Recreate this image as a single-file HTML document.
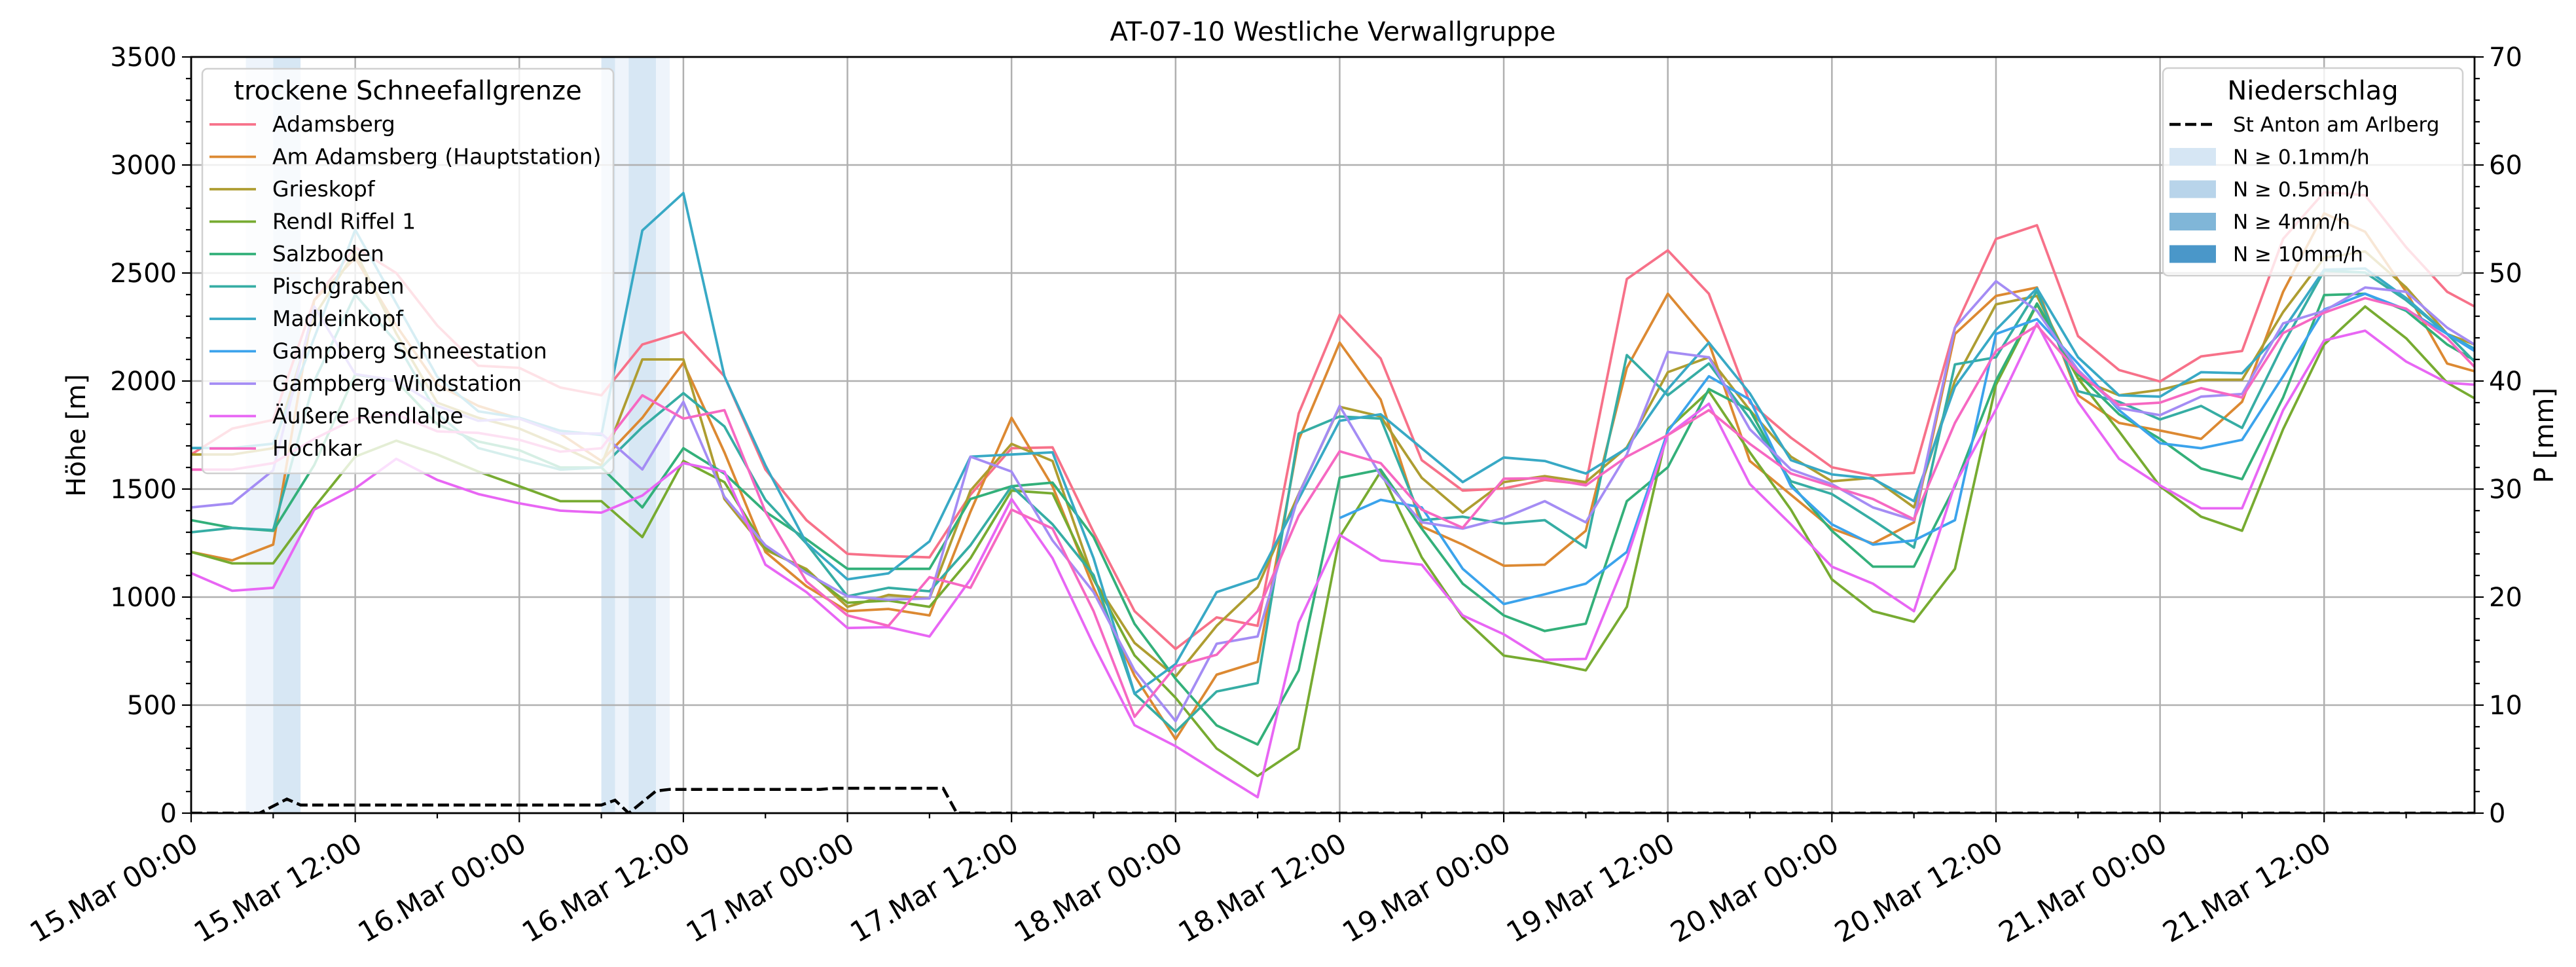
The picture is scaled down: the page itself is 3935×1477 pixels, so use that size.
<!DOCTYPE html>
<html>
<head>
<meta charset="utf-8">
<style>
html,body{margin:0;padding:0;background:#fff;}
svg{display:block;font-family:"DejaVu Sans","Liberation Sans",sans-serif;}
</style>
</head>
<body>
<svg id="chart" width="3935" height="1477" viewBox="0 0 3935 1477" xmlns="http://www.w3.org/2000/svg">
  <rect x="0" y="0" width="3935" height="1477" fill="#ffffff"/>
  <defs><clipPath id="plotclip"><rect x="292" y="87" width="3488" height="1155"/></clipPath></defs>
  <g id="bands" clip-path="url(#plotclip)"></g>
  <g id="grid"></g>
  <g id="lines" clip-path="url(#plotclip)"></g>
  <g id="precip" clip-path="url(#plotclip)"></g>
  <g id="axes"></g>
  <text x="2036" y="62" font-size="40" text-anchor="middle">AT-07-10 Westliche Verwallgruppe</text>
  <text transform="translate(130,665) rotate(-90)" font-size="40" text-anchor="middle">Höhe [m]</text>
  <text transform="translate(3900,665) rotate(-90)" font-size="40" text-anchor="middle">P [mm]</text>
  <g id="legend1"></g>
  <g id="legend2"></g>
</svg>
<script>
const hours = [0,3,6,9,12,15,18,21,24,27,30,33,36,39,42,45,48,51,54,57,60,63,66,69,72,75,78,81,84,87,90,93,96,99,102,105,108,111,114,117,120,123,126,129,132,135,138,141,144,147,150,153,156,159,162,165,167];
const seriesNames = ["Adamsberg","Am Adamsberg (Hauptstation)","Grieskopf","Rendl Riffel 1","Salzboden","Pischgraben","Madleinkopf","Gampberg Schneestation","Gampberg Windstation","Äußere Rendlalpe","Hochkar"];
const seriesColors = ["#f77189","#dc8932","#ae9d31","#77ab31","#33b07a","#36ada4","#38a9c5","#3ba3ec","#a48cf4","#e866f4","#f668c2"];
const adamsberg = [1660,1780,1820,2374,2619,2500,2257,2071,2061,1970,1934,2169,2227,2022,1591,1356,1200,1190,1184,1474,1689,1693,1301,935,760,906,867,1850,2306,2104,1634,1493,1503,1542,1522,2472,2605,2404,1900,1738,1601,1562,1575,2247,2658,2721,2208,2051,1998,2114,2139,2658,2874,2860,2619,2413,2345];
const amAdamsberg = [1209,1170,1243,2374,2570,2257,1983,1885,1826,1757,1630,1830,2085,1670,1209,1050,935,945,915,1395,1830,1513,1043,636,342,641,700,1728,2178,1914,1327,1243,1145,1150,1307,2061,2404,2178,1630,1474,1317,1248,1346,2218,2394,2433,1934,1806,1771,1732,1904,2413,2776,2691,2413,2081,2045];
const grieskopf = [1660,1660,1689,2300,2600,2220,1900,1830,1780,1700,1610,2100,2100,1454,1219,1130,955,1010,994,1493,1709,1630,1082,788,632,867,1047,1477,1881,1836,1552,1391,1532,1560,1532,1693,2041,2110,1865,1650,1536,1552,1415,2002,2355,2394,2012,1934,1959,2006,2006,2319,2570,2600,2433,2218,2169];
const rendl = [1209,1156,1156,1415,1650,1724,1660,1581,1513,1444,1444,1278,1630,1532,1229,1120,974,984,955,1180,1493,1480,1082,730,534,299,172,299,1278,1581,1184,906,729,700,661,955,1777,1953,1670,1405,1082,935,886,1131,1983,2355,2012,1767,1513,1372,1307,1777,2169,2345,2198,1992,1920];
const salzboden = [1356,1321,1307,1611,2030,2000,1800,1720,1680,1600,1600,1415,1689,1572,1395,1268,1131,1131,1131,1454,1513,1530,1278,876,622,406,318,661,1552,1590,1317,1062,915,843,877,1444,1601,1963,1865,1523,1307,1141,1141,1513,2002,2359,2032,1846,1732,1595,1546,1924,2398,2404,2325,2169,2096];
const pischgraben = [1300,1320,1310,2000,2400,2180,1850,1690,1640,1590,1600,1787,1944,1790,1450,1248,1004,1043,1027,1240,1513,1337,1102,553,377,563,602,1757,1836,1826,1356,1372,1340,1356,1229,2120,1934,2081,1826,1536,1477,1356,1229,2077,2110,2417,1953,1904,1822,1885,1783,2169,2511,2502,2374,2218,2090];
const madleinkopf = [1690,1690,1710,2200,2700,2360,2020,1860,1830,1770,1750,2697,2870,2022,1610,1250,1082,1110,1258,1650,1660,1670,1180,553,690,1023,1086,1454,1816,1846,1689,1532,1646,1630,1572,1689,1963,2178,1943,1634,1568,1548,1444,1973,2237,2429,2110,1934,1928,2041,2036,2237,2515,2521,2384,2218,2149];
const gampbergSchnee = [null,null,null,null,null,null,null,null,null,null,null,null,null,null,null,null,null,null,null,null,null,null,null,null,null,null,null,null,1366,1450,1415,1131,968,1013,1062,1209,1767,2022,1914,1513,1337,1243,1262,1356,2218,2286,2081,1865,1712,1689,1728,2022,2331,2404,2331,2218,2139];
const gampbergWind = [1415,1434,1587,2345,2032,2002,1885,1816,1826,1757,1757,1591,1904,1464,1240,1111,1004,988,994,1650,1581,1262,1023,661,426,784,818,1474,1885,1562,1346,1317,1366,1444,1346,1660,2135,2110,1777,1591,1523,1415,1356,2247,2462,2325,2051,1875,1842,1928,1940,2267,2325,2433,2413,2247,2169];
const aeussere = [1111,1029,1043,1405,1503,1640,1542,1477,1434,1400,1391,1470,1620,1581,1150,1023,857,861,818,1082,1454,1180,779,407,310,191,74,882,1288,1170,1150,915,828,710,714,1180,1750,1895,1523,1337,1141,1062,935,1523,1869,2267,1904,1640,1517,1411,1411,1865,2188,2233,2090,1992,1983];
const hochkar = [1590,1590,1620,1732,1826,1846,1767,1760,1728,1673,1689,1934,1826,1865,1395,1072,915,867,1092,1043,1405,1317,935,446,680,733,935,1376,1675,1620,1405,1321,1548,1550,1517,1650,1750,1865,1709,1572,1513,1454,1360,1806,2139,2257,2041,1889,1900,1967,1924,2222,2316,2384,2335,2198,2065];
const allSeries = [adamsberg,amAdamsberg,grieskopf,rendl,salzboden,pischgraben,madleinkopf,gampbergSchnee,gampbergWind,aeussere,hochkar];

const precipHours = [0,5,7,8,30,31,32,34,35,46,47,55,56,167];
const precipValues = [0,0,1.3,0.75,0.75,1.2,0,2.05,2.2,2.2,2.3,2.3,0,0];

const bandStart = [4,6,30,31,32,34];
const bandEnd = [6,8,31,32,34,35];
const bandLevel = [0,1,1,0,1,0];

const xTickLabels = ["15.Mar 00:00","15.Mar 12:00","16.Mar 00:00","16.Mar 12:00","17.Mar 00:00","17.Mar 12:00","18.Mar 00:00","18.Mar 12:00","19.Mar 00:00","19.Mar 12:00","20.Mar 00:00","20.Mar 12:00","21.Mar 00:00","21.Mar 12:00"];
const yTicks = [0,500,1000,1500,2000,2500,3000,3500];
const y2Ticks = [0,10,20,30,40,50,60,70];

const L=292,R=3780,T=87,B=1242;
const X_MAX=167, Y_MAX=3500, Y2_MAX=70;
function xs(h){return L+(R-L)*h/X_MAX;}
function ys(v){return B-(B-T)*v/Y_MAX;}
function ys2(v){return B-(B-T)*v/Y2_MAX;}
const NS="http://www.w3.org/2000/svg";
function mk(tag,attrs,parent){const e=document.createElementNS(NS,tag);for(const k in attrs)e.setAttribute(k,attrs[k]);parent.appendChild(e);return e;}

const bandColors=["#eef4fb","#d7e7f4"];
const gB=document.getElementById('bands');
bandStart.forEach((s,i)=>{
  const r=mk('rect',{x:xs(s),y:T,width:xs(bandEnd[i])-xs(s),height:B-T,fill:bandColors[bandLevel[i]]},gB);
  
  
});

const gG=document.getElementById('grid');
for(let i=0;i<xTickLabels.length;i++){
  const x=xs(i*12);
  const l=mk('line',{x1:x,x2:x,y1:T,y2:B,stroke:'#b0b0b0','stroke-width':2.5},gG);
  
  
}
yTicks.forEach(v=>{
  const y=ys(v);
  const l=mk('line',{x1:L,x2:R,y1:y,y2:y,stroke:'#b0b0b0','stroke-width':2.5},gG);
  
  
});

const gL=document.getElementById('lines');
allSeries.forEach((arr,si)=>{
  let d='';let pen=false;
  arr.forEach((v,i)=>{
    if(v===null){pen=false;return;}
    d+=(pen?'L':'M')+xs(hours[i]).toFixed(1)+','+ys(v).toFixed(1);pen=true;
  });
  const p=mk('path',{d:d,fill:'none',stroke:seriesColors[si],'stroke-width':3.8,'stroke-linejoin':'round'},gL);
  
  
});

const gP=document.getElementById('precip');
let pd='';
precipHours.forEach((h,i)=>{pd+=(i?'L':'M')+xs(h).toFixed(1)+','+ys2(precipValues[i]).toFixed(1);});
const pp=mk('path',{d:pd,fill:'none',stroke:'#000','stroke-width':4.5,'stroke-dasharray':'17,7'},gP);



const gA=document.getElementById('axes');
const frame=mk('rect',{x:L,y:T,width:R-L,height:B-T,fill:'none',stroke:'#000','stroke-width':2.8},gA);


for(let h=0;h<=X_MAX;h+=6){
  const major=(h%12===0);
  const t=mk('line',{x1:xs(h),x2:xs(h),y1:B,y2:B+(major?14:8),stroke:'#000','stroke-width':2.2},gA);
  
  
}
xTickLabels.forEach((lab,i)=>{
  const x=xs(i*12);
  const t=mk('text',{transform:'translate('+(x-2)+','+(B+28)+') rotate(-30)','font-size':43,'text-anchor':'end','dominant-baseline':'hanging'},gA);
  t.textContent=lab;
  
  
});
for(let v=0;v<=Y_MAX;v+=100){
  const major=(v%500===0);
  const t=mk('line',{x1:L,x2:L-(major?14:8),y1:ys(v),y2:ys(v),stroke:'#000','stroke-width':2.2},gA);
  
  
}
yTicks.forEach(v=>{
  const t=mk('text',{x:L-22,y:ys(v)+14,'font-size':40,'text-anchor':'end'},gA);
  t.textContent=String(v);
  
  
});
for(let v=0;v<=Y2_MAX;v+=2){
  const major=(v%10===0);
  const t=mk('line',{x1:R,x2:R+(major?14:8),y1:ys2(v),y2:ys2(v),stroke:'#000','stroke-width':2.2},gA);
  
  
}
y2Ticks.forEach(v=>{
  const t=mk('text',{x:R+22,y:ys2(v)+14,'font-size':40,'text-anchor':'start'},gA);
  t.textContent=String(v);
  
  
});

const g1=document.getElementById('legend1');
const f1=mk('rect',{x:309,y:105,width:628,height:618,rx:8,fill:'#ffffff','fill-opacity':0.8,stroke:'#d0d0d0','stroke-width':2.5},g1);


const t1=mk('text',{x:623,y:152,'font-size':40,'text-anchor':'middle'},g1);
t1.textContent='trockene Schneefallgrenze';


seriesNames.forEach((n,i)=>{
  const cy=190+i*49.5;
  const ln=mk('line',{x1:320,x2:391,y1:cy,y2:cy,stroke:seriesColors[i],'stroke-width':3.8},g1);
  
  
  const tx=mk('text',{x:416,y:cy+11,'font-size':33},g1);
  tx.textContent=n;
  
  
});

const g2=document.getElementById('legend2');
const f2=mk('rect',{x:3304,y:104,width:458,height:317,rx:8,fill:'#ffffff','fill-opacity':0.8,stroke:'#d0d0d0','stroke-width':2.5},g2);


const t2=mk('text',{x:3533,y:152,'font-size':40,'text-anchor':'middle'},g2);
t2.textContent='Niederschlag';


const l2labels=['St Anton am Arlberg','N ≥ 0.1mm/h','N ≥ 0.5mm/h','N ≥ 4mm/h','N ≥ 10mm/h'];
const l2colors=[null,'#d6e6f4','#b8d4ea','#80b6d8','#4a97c9'];
l2labels.forEach((n,i)=>{
  const cy=190+i*49.5;
  if(i===0){
    const ln=mk('line',{x1:3314,x2:3384,y1:cy,y2:cy,stroke:'#000','stroke-width':4.5,'stroke-dasharray':'17,7'},g2);
    
    
  } else {
    const r=mk('rect',{x:3314,y:cy-13.5,width:71,height:27,fill:l2colors[i]},g2);
    
    
  }
  const tx=mk('text',{x:3411,y:cy+11,'font-size':31},g2);
  tx.textContent=n;
  
  
});
</script>
</body>
</html>
